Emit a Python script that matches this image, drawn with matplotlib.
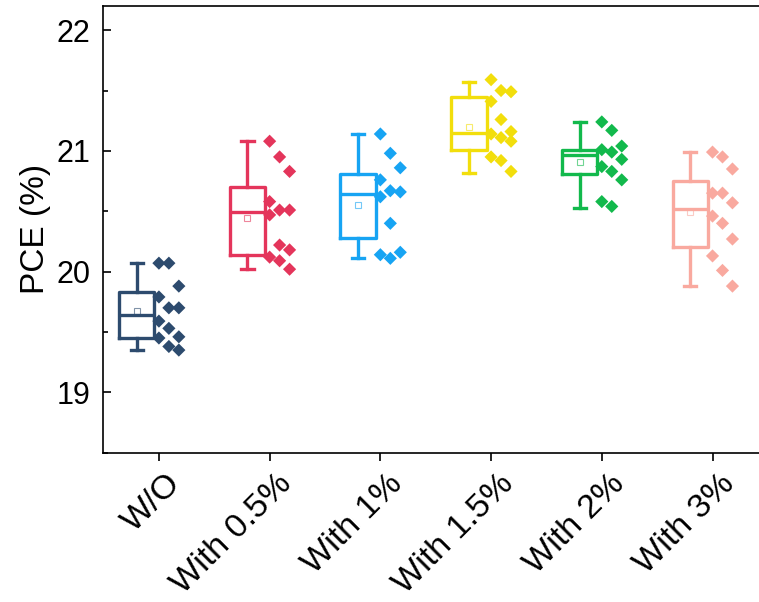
#!/usr/bin/env python3

# Box plot of PCE for different additive ratios, Origin style (box + points).

import matplotlib
matplotlib.use("Agg")
import matplotlib.pyplot as plt
import matplotlib.transforms as mtransforms
from matplotlib.ticker import MultipleLocator

# Categories.
labels = ["W/O", "With 0.5%", "With 1%", "With 1.5%", "With 2%", "With 3%"]

# Colours for each group.
colors = ["#2D4B6E", "#E4355B", "#17A4F3", "#F2DE0C", "#12B94C", "#F9A99F"]

# Individual device PCE values.
pce_wo = [20.07, 20.07, 19.88, 19.79, 19.70, 19.70, 19.59, 19.53, 19.46, 19.45, 19.38, 19.35]
pce_05 = [21.08, 20.95, 20.83, 20.58, 20.51, 20.51, 20.47, 20.22, 20.18, 20.12, 20.09, 20.02]
pce_1 = [21.14, 20.98, 20.86, 20.76, 20.67, 20.66, 20.62, 20.40, 20.16, 20.14, 20.11]
pce_15 = [21.59, 21.50, 21.49, 21.41, 21.26, 21.16, 21.14, 21.11, 21.08, 20.95, 20.92, 20.83]
pce_2 = [21.24, 21.17, 21.04, 21.01, 20.99, 20.93, 20.87, 20.83, 20.76, 20.58, 20.54]
pce_3 = [20.99, 20.95, 20.85, 20.65, 20.65, 20.57, 20.46, 20.40, 20.27, 20.13, 20.01, 19.88]
points = [pce_wo, pce_05, pce_1, pce_15, pce_2, pce_3]

# Box statistics as drawn in the reference.
whis_lo = [19.35, 20.02, 20.11, 20.82, 20.53, 19.88]
box_q1 = [19.45, 20.14, 20.28, 21.01, 20.81, 20.20]
box_med = [19.64, 20.49, 20.64, 21.15, 20.97, 20.52]
box_q3 = [19.83, 20.70, 20.81, 21.45, 21.01, 20.75]
whis_hi = [20.07, 21.08, 21.14, 21.57, 21.24, 20.99]
box_mean = [19.67, 20.44, 20.55, 21.20, 20.91, 20.49]

# Fonts.
plt.rcParams['font.family'] = ['Liberation Sans', 'DejaVu Sans']

fig = plt.figure(figsize=(7.59, 6.02), dpi=100)
ax = fig.add_axes([0.1357, 0.248, 0.876, 0.742])

box_shift = -0.2
jitter = [0.0, 0.09, 0.18]

for i in range(len(labels)):
    stats = [{
        "whislo": whis_lo[i], "q1": box_q1[i], "med": box_med[i],
        "q3": box_q3[i], "whishi": whis_hi[i], "mean": box_mean[i],
        "fliers": [],
    }]
    c = colors[i]
    ax.bxp(stats, positions=[i + box_shift], widths=0.32, capwidths=0.11,
           showmeans=True, patch_artist=False,
           boxprops=dict(color=c, linewidth=2.4),
           medianprops=dict(color=c, linewidth=2.4),
           whiskerprops=dict(color=c, linewidth=2.4),
           capprops=dict(color=c, linewidth=2.4),
           meanprops=dict(marker='s', markerfacecolor='none', markeredgecolor=c,
                          markersize=5, markeredgewidth=0.8, alpha=0.6),
           manage_ticks=False)
    # Data points next to the box.
    xs = [i + jitter[k % 3] for k in range(len(points[i]))]
    ax.scatter(xs, points[i], marker='D', s=45, color=c, edgecolors='none', zorder=3)

ax.set_xlim(-0.505, 5.5)
ax.set_ylim(18.5, 22.2)
ax.set_xticks(range(len(labels)))
ax.set_xticklabels([])

# Rotated category labels, shifted right of the ticks like the original.
label_trans = ax.get_xaxis_transform() + mtransforms.ScaledTranslation(
    20.5 / 72, -11 / 72, fig.dpi_scale_trans)
for i, lab in enumerate(labels):
    ax.text(i, 0, lab, rotation=45, ha='right', va='top', fontsize=24.5,
            transform=label_trans, clip_on=False)

ax.yaxis.set_major_locator(MultipleLocator(1))
ax.yaxis.set_minor_locator(MultipleLocator(0.5))
ax.tick_params(axis='y', which='major', direction='in', length=6, width=1.2,
               labelsize=22, pad=9)
ax.tick_params(axis='y', which='minor', direction='in', length=3.5, width=1.2)
ax.tick_params(axis='x', direction='out', length=6, width=1.2)
for s in ax.spines.values():
    s.set_linewidth(1.2)
ax.set_ylabel('PCE (%)', fontsize=24, labelpad=4)

fig.savefig("out.png", dpi=100)
plt.close(fig)
